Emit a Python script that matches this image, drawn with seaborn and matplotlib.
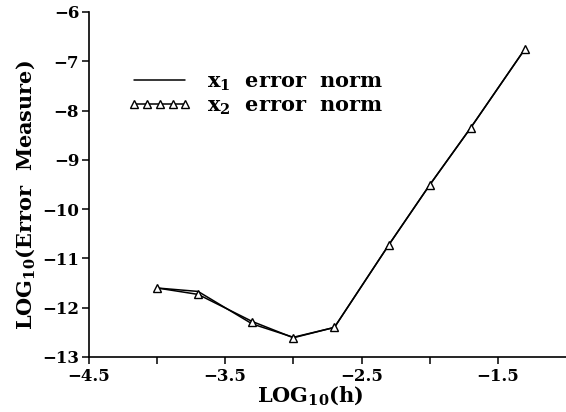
import matplotlib
matplotlib.use("Agg")
import matplotlib.pyplot as plt
import seaborn as sns
import pandas as pd

log_h = [-4.0, -3.699, -3.301, -3.0, -2.699, -2.301, -2.0, -1.699, -1.301]
x1_err = [-11.60, -11.67, -12.33, -12.60, -12.40, -10.73, -9.51, -8.35, -6.75]
x2_err = [-11.60, -11.73, -12.28, -12.61, -12.40, -10.73, -9.51, -8.35, -6.75]

x_ticks = [-4.5, -4.0, -3.5, -3.0, -2.5, -2.0, -1.5]
x_tick_labels = ["\u22124.5", "", "\u22123.5", "", "\u22122.5", "", "\u22121.5"]
y_ticks = [-13, -12, -11, -10, -9, -8, -7, -6]
y_tick_labels = ["\u221213", "\u221212", "\u221211", "\u221210", "\u22129", "\u22128", "\u22127", "\u22126"]

sns.set_theme(style="ticks")
plt.rcParams["font.family"] = ["DejaVu Serif"]
plt.rcParams["mathtext.fontset"] = "dejavuserif"
plt.rcParams["mathtext.default"] = "bf"
for k in ["text.color", "axes.labelcolor", "xtick.color", "ytick.color", "axes.edgecolor"]:
    plt.rcParams[k] = "black"

fig = plt.figure(figsize=(5.66, 4.12), dpi=100)
ax = fig.add_axes([0.157, 0.1335, 0.843, 0.8375])

df1 = pd.DataFrame({"h": log_h, "e": x1_err})
df2 = pd.DataFrame({"h": log_h, "e": x2_err})
sns.lineplot(data=df1, x="h", y="e", ax=ax, color="black", lw=1.1,
             sort=False, estimator=None, label="x$_1$  error  norm")
sns.lineplot(data=df2, x="h", y="e", ax=ax, color="black", lw=1.1,
             sort=False, estimator=None, marker="^", markersize=5.5,
             markerfacecolor="white", markeredgecolor="black", markeredgewidth=1.0,
             label="x$_2$  error  norm")

ax.set_xlim(-4.5, -1.0)
ax.set_ylim(-13, -6)
ax.set_xticks(x_ticks)
ax.set_xticklabels(x_tick_labels, fontsize=12, fontweight="bold")
ax.set_yticks(y_ticks)
ax.set_yticklabels(y_tick_labels, fontsize=12, fontweight="bold")
ax.tick_params(axis="both", direction="out", length=5, width=1.1, color="black",
               labelcolor="black")
ax.tick_params(axis="x", pad=3)
ax.tick_params(axis="y", pad=2)
for s in ["top", "right"]:
    ax.spines[s].set_visible(False)
for s in ["left", "bottom"]:
    ax.spines[s].set_linewidth(1.2)
    ax.spines[s].set_color("black")

ax.set_xlabel("LOG$_{10}$(h)", fontsize=15, fontweight="bold", color="black")
ax.set_ylabel("LOG$_{10}$(Error  Measure)", fontsize=15, fontweight="bold", color="black")
ax.xaxis.set_label_coords(0.464, -0.078)
ax.yaxis.set_label_coords(-0.109, 0.47)

leg = ax.legend(loc="upper left", bbox_to_anchor=(0.082, 0.828), frameon=False,
                prop={"size": 15, "weight": "bold"}, numpoints=5,
                handlelength=3.05, handletextpad=0.75,
                labelspacing=0.15, borderaxespad=0, borderpad=0)
for t in leg.get_texts():
    t.set_color("black")

fig.savefig("out.png", dpi=100)
